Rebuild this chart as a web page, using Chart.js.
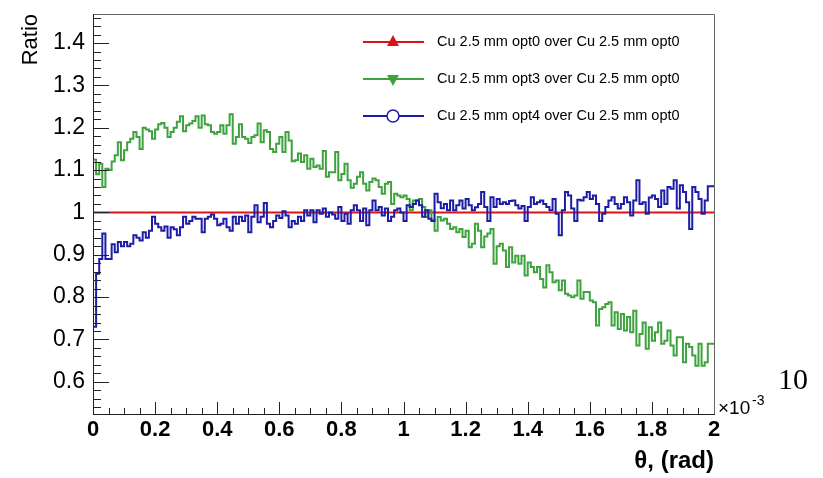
<!DOCTYPE html>
<html>
<head>
<meta charset="utf-8">
<script src="https://cdn.jsdelivr.net/npm/chart.js@4.4.0/dist/chart.umd.min.js"></script>
<style>
body { margin: 0; background: #fff; }
canvas { display: block; }
</style>
</head>
<body>
<canvas id="c" width="823" height="478"></canvas>
<script>
// theta axis in units of 1e-3 rad, histograms have 200 bins from 0 to 2
const thetaMin = 0;
const thetaMax = 2;
const binWidth = 0.01;

// opt0 / opt0 is flat at 1 over the whole range
const ratioOpt0X = [0, 2];
const ratioOpt0 = [1, 1];

const ratioOpt3 = [
  0.86, 1.125, 1.09, 1.115, 1.06, 1.103, 1.10, 1.12, 1.135, 1.166,
  1.123, 1.147, 1.166, 1.174, 1.19, 1.178, 1.15, 1.2, 1.196, 1.192,
  1.174, 1.196, 1.208, 1.211, 1.2, 1.178, 1.19, 1.2, 1.214, 1.227,
  1.192, 1.206, 1.21, 1.216, 1.227, 1.2, 1.229, 1.208, 1.206, 1.19,
  1.186, 1.19, 1.206, 1.186, 1.206, 1.232, 1.162, 1.178, 1.208, 1.178,
  1.174, 1.164, 1.178, 1.182, 1.21, 1.166, 1.194, 1.19, 1.15, 1.143,
  1.162, 1.178, 1.143, 1.19, 1.17, 1.121,
  1.123, 1.139, 1.119, 1.135, 1.103, 1.127, 1.107, 1.111, 1.103, 1.145,
  1.084, 1.095, 1.095, 1.143, 1.076, 1.091, 1.115, 1.076, 1.058, 1.068,
  1.084, 1.095, 1.068, 1.052, 1.072,
  1.08, 1.076, 1.06, 1.044, 1.068, 1.072, 1.02, 1.044, 1.04, 1.036,
  1.04, 1.032, 1.005, 1.028, 1.028, 1.032, 1.013, 0.989, 1.005, 0.981,
  0.957, 0.989, 0.981,
  0.985, 0.973, 0.961, 0.965, 0.953, 0.961, 0.942, 0.957, 0.918, 0.926,
  0.973, 0.957, 0.918, 0.943, 0.95, 0.961, 0.879, 0.92,
  0.926, 0.91, 0.871, 0.918, 0.882, 0.898, 0.879, 0.898, 0.851, 0.882,
  0.871, 0.859, 0.871, 0.843, 0.823, 0.875, 0.859, 0.835, 0.839, 0.816,
  0.839, 0.808, 0.804, 0.8, 0.804, 0.839, 0.796, 0.812, 0.812, 0.792,
  0.788, 0.733, 0.772, 0.776, 0.784, 0.788, 0.733, 0.764, 0.725, 0.76,
  0.721, 0.753, 0.717, 0.768, 0.686, 0.713, 0.74, 0.678, 0.729, 0.697,
  0.717, 0.74, 0.69, 0.697, 0.721, 0.686, 0.662, 0.705, 0.705, 0.646,
  0.69, 0.682, 0.662, 0.638, 0.69, 0.638, 0.646, 0.69
];

const ratioOpt4 = [
  0.76, 0.73, 0.855, 0.89, 0.95, 0.89, 0.89, 0.925, 0.906, 0.93,
  0.92, 0.93, 0.92, 0.926, 0.946, 0.94, 0.934, 0.953, 0.94, 0.957,
  0.99, 0.973, 0.965, 0.957, 0.967, 0.94, 0.965, 0.96, 0.946, 0.965,
  0.99, 0.973, 0.98, 0.99, 0.985, 0.985, 0.953, 0.985, 0.99, 0.995,
  0.985, 0.97, 0.973, 0.985, 0.965, 0.957, 0.99, 0.973, 0.99, 0.98,
  0.993, 0.953, 0.99, 1.017, 0.977, 0.99, 1.022, 0.973, 0.965, 0.98,
  0.993, 0.987, 1.003, 0.993, 0.965, 0.98,
  0.973, 0.99, 0.98, 1.005, 0.993, 1.005, 0.977, 1.005, 0.997, 1.009,
  0.99, 1.0, 0.995, 0.985, 1.013, 0.98, 0.997, 0.973, 1.005, 1.017,
  1.005, 0.98, 1.009, 0.97, 1.005, 1.028, 1.005, 1.013, 0.993, 1.009,
  0.98, 0.99, 1.005, 1.009, 1.0, 0.98, 1.017, 1.013, 1.02, 1.028,
  1.017, 0.99, 1.005, 0.985, 0.98, 1.044, 1.024, 1.01, 1.02, 1.005,
  1.028, 1.005, 1.017, 1.028, 1.009, 1.032, 1.017, 1.005, 1.012, 1.02,
  1.048, 1.013, 0.98, 1.036, 1.013, 1.032,
  1.02, 1.024, 1.02, 1.027, 1.028, 1.017, 1.009, 1.015, 0.98, 1.013,
  1.036, 1.02, 1.024, 1.028, 1.02, 1.013, 1.005, 1.032, 0.997, 0.946,
  1.005, 1.048, 1.04, 1.009, 0.98, 1.03, 1.028, 1.036, 1.048, 1.032,
  1.04, 1.02, 0.98, 0.997, 1.013, 1.028, 1.036, 1.02, 1.009, 1.02,
  1.036, 1.024, 0.993, 1.028, 1.076, 1.02, 1.024, 0.997, 1.035, 1.04,
  1.032, 1.013, 1.052, 1.02, 1.06, 1.056, 1.076, 1.009, 1.064, 1.048,
  1.024, 0.961, 1.06, 1.048, 1.032, 0.997, 1.028, 1.062
];

const legendLabels = [
  'Cu 2.5 mm opt0 over Cu 2.5 mm opt0',
  'Cu 2.5 mm opt3 over Cu 2.5 mm opt0',
  'Cu 2.5 mm opt4 over Cu 2.5 mm opt0'
];
const xTicks = [0, 0.2, 0.4, 0.6, 0.8, 1, 1.2, 1.4, 1.6, 1.8, 2];
const yTicks = [0.6, 0.7, 0.8, 0.9, 1, 1.1, 1.2, 1.3, 1.4];

const FONT = '"Liberation Sans", Arial, Helvetica, sans-serif';

// build histogram outline points (left bin edges + closing right edge)
function histPoints(vals) {
  var pts = [];
  for (var i = 0; i < vals.length; i++) {
    pts.push({x: thetaMin + i * binWidth, y: vals[i]});
  }
  pts.push({x: thetaMin + vals.length * binWidth, y: vals[vals.length - 1]});
  return pts;
}

const rootDecor = {
  id: 'rootDecor',
  afterDraw(chart) {
    const ctx = chart.ctx;
    const a = chart.chartArea;
    const xs = chart.scales.x, ys = chart.scales.y;
    ctx.save();

    // frame
    ctx.strokeStyle = '#666';
    ctx.lineWidth = 1;
    ctx.beginPath();
    ctx.moveTo(a.left + 0.5, a.top + 0.5);
    ctx.lineTo(a.right + 0.5, a.top + 0.5);
    ctx.lineTo(a.right + 0.5, a.bottom + 0.5);
    ctx.stroke();

    // axes and ticks inside the frame, ROOT style
    ctx.fillStyle = '#222';
    var L = Math.round(a.left), B = Math.round(a.bottom);
    ctx.fillRect(L, Math.round(a.top), 1, B - Math.round(a.top) + 1);
    ctx.fillRect(L, B, Math.round(a.right) - L + 1, 1);
    // x: major 0.2, minor 0.05
    for (var j = 1; j < 40; j++) {
      var px = Math.round(xs.getPixelForValue(j / 20));
      var l2 = (j % 4 === 0) ? 12 : 6;
      ctx.fillRect(px, B - l2, 1, l2);
    }
    // y: major 0.1, minor 0.02
    for (var k = 27; k <= 73; k++) {
      var py = Math.round(ys.getPixelForValue(k / 50));
      var len = (k % 5 === 0) ? 16 : 8;
      ctx.fillRect(L, py, len, 1);
    }

    // x10^-3 exponent
    ctx.fillStyle = '#000';
    ctx.textBaseline = 'alphabetic';
    ctx.textAlign = 'left';
    ctx.font = '19px ' + FONT;
    ctx.fillText('\u00d710', a.right + 4, a.bottom);
    ctx.font = '14px ' + FONT;
    ctx.fillText('-3', a.right + 38, a.bottom - 9);

    // stray label at the right side
    ctx.font = '30px "Liberation Serif", "DejaVu Serif", serif';
    ctx.fillText('10', 778, 389);

    // legend
    ctx.font = '14.5px ' + FONT;
    ctx.textBaseline = 'middle';
    var rows = [42, 79, 116];
    chart.data.datasets.forEach(function(ds, i) {
      var ry = rows[i];
      ctx.strokeStyle = ds.borderColor;
      ctx.lineWidth = 2;
      ctx.beginPath();
      ctx.moveTo(363, ry);
      ctx.lineTo(424, ry);
      ctx.stroke();
      ctx.fillStyle = ds.borderColor;
      ctx.beginPath();
      if (i == 0) {
        ctx.moveTo(393, ry - 7); ctx.lineTo(399, ry + 4); ctx.lineTo(387, ry + 4); ctx.closePath(); ctx.fill();
      } else if (i == 1) {
        ctx.moveTo(393, ry + 7); ctx.lineTo(399, ry - 4); ctx.lineTo(387, ry - 4); ctx.closePath(); ctx.fill();
      } else {
        ctx.fillStyle = '#fff';
        ctx.arc(393, ry, 6, 0, Math.PI * 2);
        ctx.fill();
        ctx.lineWidth = 1.5;
        ctx.stroke();
      }
      ctx.fillStyle = '#000';
      ctx.fillText(legendLabels[i], 437, ry);
    });
    ctx.restore();
  }
};

var ctx = document.getElementById('c').getContext('2d');
var chart = new Chart(ctx, {
  type: 'line',
  data: {
    datasets: [{
      label: legendLabels[0],
      data: ratioOpt0X.map(function(x, i) { return {x: x, y: ratioOpt0[i]}; }),
      borderColor: '#d8141a',
      borderWidth: 2,
      order: 3
    }, {
      label: legendLabels[1],
      data: histPoints(ratioOpt3),
      borderColor: '#3ea33e',
      borderWidth: 2,
      stepped: 'after',
      order: 2
    }, {
      label: legendLabels[2],
      data: histPoints(ratioOpt4),
      borderColor: '#1c1ca6',
      borderWidth: 2,
      stepped: 'after',
      order: 1
    }]
  },
  options: {
    responsive: false,
    animation: false,
    layout: {padding: {top: 14, right: 109, bottom: 0, left: 0}},
    elements: {point: {radius: 0}, line: {tension: 0, fill: false}},
    plugins: {legend: {display: false}, tooltip: {enabled: false}},
    scales: {
      x: {
        type: 'linear',
        min: thetaMin,
        max: thetaMax,
        afterBuildTicks: function(s) { s.ticks = xTicks.map(function(v) { return {value: v}; }); },
        afterFit: function(s) { s.height = 64; s.paddingLeft = 0; s.paddingRight = 0; },
        grid: {display: false, drawTicks: false},
        border: {display: false},
        ticks: {
          color: '#000',
          padding: 3,
          maxRotation: 0,
          font: {family: FONT, size: 22, weight: 'bold'},
          callback: function(v) { return String(+v.toFixed(1)); }
        },
        title: {
          display: true, text: '\u03b8, (rad)', align: 'end', color: '#000',
          font: {family: FONT, size: 24, weight: 'bold'},
          padding: {top: 0, bottom: 2}
        }
      },
      y: {
        min: 0.524,
        max: 1.4686,
        afterBuildTicks: function(s) { s.ticks = yTicks.map(function(v) { return {value: v}; }); },
        afterFit: function(s) { s.width = 93; s.paddingTop = 0; s.paddingBottom = 0; },
        grid: {display: false, drawTicks: false},
        border: {display: false},
        ticks: {
          color: '#000',
          padding: 8,
          font: {family: FONT, size: 23},
          callback: function(v) { return String(+v.toFixed(1)); }
        },
        title: {
          display: true, text: 'Ratio', align: 'end', color: '#000',
          font: {family: FONT, size: 22},
          padding: {top: 18, bottom: 0}
        }
      }
    }
  },
  plugins: [rootDecor]
});
</script>
</body>
</html>
